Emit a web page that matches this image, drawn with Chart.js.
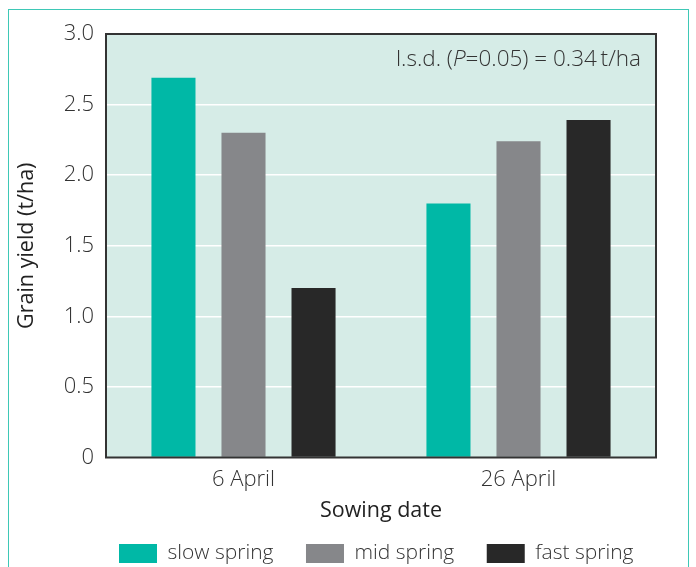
<!DOCTYPE html>
<html><head><meta charset="utf-8">
<script src="https://cdn.jsdelivr.net/npm/chart.js@4"></script>
<style>
html,body{margin:0;padding:0;background:#fff;}
#wrap{position:relative;width:696px;height:567px;overflow:hidden;}
#frame{position:absolute;left:8px;top:9px;width:681px;height:600px;border:1.5px solid #3ec8b6;border-bottom:none;box-sizing:border-box;}
canvas{position:absolute;left:0;top:0;}
</style></head><body>
<div id="wrap"><div id="frame"></div><canvas id="c" width="696" height="567"></canvas></div>
<script>
// ---- data ----
const categories = ['6 April', '26 April'];
const seriesNames = ['slow spring', 'mid spring', 'fast spring'];
const slowSpring = [2.69, 1.80];
const midSpring = [2.30, 2.24];
const fastSpring = [1.20, 2.39];
const yTickValues = [0, 0.5, 1.0, 1.5, 2.0, 2.5, 3.0];
const xTitle = 'Sowing date';
const yTitle = 'Grain yield (t/ha)';
const lsdParts = ['l.s.d. (', 'P', '=0.05) = 0.34\u2009t/ha'];

// ---- style ----
const colors = ['#00b8a6', '#86878a', '#282828'];
const FONT = '"Open Sans", Roboto, sans-serif';
const textColor = '#333333';

const plotBg = {
  id: 'plotBg',
  beforeDraw(chart) {
    const {ctx, chartArea: a} = chart;
    ctx.save();
    ctx.fillStyle = '#d6ece7';
    ctx.fillRect(a.left, a.top, a.right - a.left, a.bottom - a.top);
    ctx.restore();
  },
  afterDatasetsDraw(chart) {
    const {ctx, chartArea: a} = chart;
    ctx.save();
    ctx.strokeStyle = '#333333';
    ctx.lineWidth = 2;
    ctx.strokeRect(a.left, a.top, a.right - a.left, a.bottom - a.top);
    // l.s.d. annotation
    const y = a.top + 26;
    const normal = '300 22.5px ' + FONT;
    const italic = 'italic 300 22.5px ' + FONT;
    ctx.fillStyle = textColor;
    ctx.textBaseline = 'middle';
    ctx.textAlign = 'left';
    ctx.font = normal; const w0 = ctx.measureText(lsdParts[0]).width;
    const w2 = ctx.measureText(lsdParts[2]).width;
    ctx.font = italic; const w1 = ctx.measureText(lsdParts[1]).width;
    let x = a.right - 15 - (w0 + w1 + w2);
    ctx.font = normal; ctx.fillText(lsdParts[0], x, y); x += w0;
    ctx.font = italic; ctx.fillText(lsdParts[1], x, y); x += w1;
    ctx.font = normal; ctx.fillText(lsdParts[2], x, y);
    ctx.restore();
  }
};

const legendShift = {
  id: 'legendShift',
  afterLayout(chart) {
    const l = chart.legend;
    if (!l) return;
    const dx = 86.5, dy = 7;
    l.left += dx; l.right += dx; l.top += dy; l.bottom += dy;
  }
};

new Chart(document.getElementById('c'), {
  type: 'bar',
  data: {
    labels: categories,
    datasets: [
      {label: seriesNames[0], data: slowSpring, backgroundColor: colors[0]},
      {label: seriesNames[1], data: midSpring, backgroundColor: colors[1]},
      {label: seriesNames[2], data: fastSpring, backgroundColor: colors[2]}
    ]
  },
  options: {
    responsive: false,
    animation: false,
    devicePixelRatio: 1,
    categoryPercentage: 0.764,
    barPercentage: 0.629,
    layout: {padding: {left: 0, right: 40, top: 34, bottom: 0}},
    plugins: {
      tooltip: {enabled: false},
      legend: {
        position: 'bottom',
        align: 'start',
        labels: {
          font: {family: FONT, size: 21, weight: 300},
          color: textColor,
          boxWidth: 38,
          boxHeight: 19,
          padding: 32.5
        }
      }
    },
    scales: {
      x: {
        grid: {display: false, drawTicks: false},
        border: {display: false},
        ticks: {font: {family: FONT, size: 22, weight: 300}, color: textColor, padding: 9},
        title: {display: true, text: xTitle, font: {family: FONT, size: 21.5, weight: 400}, color: '#222222', padding: {top: 0, bottom: -20}},
        afterFit(s) { s.height = 46; }
      },
      y: {
        min: 0, max: 3,
        afterBuildTicks(s) { s.ticks = yTickValues.map(v => ({value: v})); },
        ticks: {
          font: {family: FONT, size: 22, weight: 300}, color: textColor, padding: 12,
          callback: v => v === 0 ? '0' : v.toFixed(1)
        },
        grid: {color: '#ffffff', lineWidth: 1.5, drawTicks: false},
        border: {display: false},
        title: {display: true, text: yTitle, font: {family: FONT, size: 21.5, weight: 400}, color: '#222222', padding: {top: 14, bottom: 0}},
        afterFit(s) { s.width = 106; }
      }
    }
  },
  plugins: [plotBg, legendShift]
});
</script>
</body></html>
